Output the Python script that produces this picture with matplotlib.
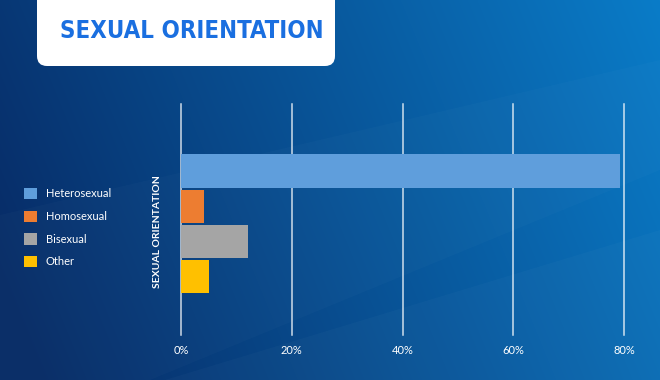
import numpy as np
import matplotlib
matplotlib.use("Agg")
import matplotlib.pyplot as plt
from matplotlib.patches import FancyBboxPatch, Polygon
from matplotlib.colors import to_rgb
from matplotlib import font_manager as fm

# ---- data ----
title = "SEXUAL ORIENTATION"
axis_label = "SEXUAL ORIENTATION"
categories = ["Heterosexual", "Homosexual", "Bisexual", "Other"]
values = [79.3, 4.2, 12.1, 5.1]
colors = ["#5f9edc", "#ed7d31", "#a5a5a5", "#ffc000"]
xticks = [0, 20, 40, 60, 80]
xtick_labels = ["0%", "20%", "40%", "60%", "80%"]

W, H = 660, 380
fig = plt.figure(figsize=(W / 100, H / 100), dpi=100)

# ---- background (pixel coordinates) ----
bg = fig.add_axes([0, 0, 1, 1])
bg.set_xlim(0, W)
bg.set_ylim(H, 0)
bg.axis("off")
xx, yy = np.meshgrid(np.linspace(0, 1, W), np.linspace(0, 1, H))
s = np.clip(0.85 * xx + 0.2 * (1 - yy) - 0.05, 0, 1)[..., None]
c0 = np.array(to_rgb("#072b66"))
c1 = np.array(to_rgb("#0a7cc8"))
img = c0 * (1 - s) + c1 * s
bg.imshow(img, extent=(0, W, H, 0), aspect="auto", zorder=0)
for pts, a in [
    ([(0, 215), (0, 380), (150, 380), (660, 170), (660, 60)], 0.018),
    ([(165, 380), (660, 380), (660, 230)], 0.025),
]:
    bg.add_patch(Polygon(pts, closed=True, facecolor="white", alpha=a,
                         edgecolor="none", zorder=1))

# title box
bg.add_patch(FancyBboxPatch((37, -20), 298, 86,
                            boxstyle="round,pad=0,rounding_size=10",
                            facecolor="white", edgecolor="none", zorder=2))

# pick a condensed bold font if available
title_fp = fm.FontProperties(family="DejaVu Sans", weight="bold")
for fam, stretch in [("Liberation Sans Narrow", "normal"),
                     ("DejaVu Sans", "condensed")]:
    fp = fm.FontProperties(family=fam, weight="bold", stretch=stretch)
    try:
        path = fm.findfont(fp, fallback_to_default=False)
        if "Narrow" in path or "Condensed" in path:
            title_fp = fp
            break
    except Exception:
        pass

t = bg.text(192, 31, title, ha="center", va="center", color="#1a6fe0",
            fontproperties=title_fp, zorder=3)
t.set_fontsize(30)
r = fig.canvas.get_renderer()
wpx = t.get_window_extent(renderer=r).width
t.set_fontsize(30 * 262 / wpx)

# ---- main chart ----
ax = fig.add_axes([181 / W, 1 - 335 / H, 443 / W, 231 / H])
ax.patch.set_alpha(0)
n = len(categories)
step = 0.152
ypos = [(i - (n - 1) / 2) * step for i in range(n)]
for yp, v, c, lab in zip(ypos, values, colors, categories):
    ax.barh(yp, v, height=0.145, color=c, label=lab, zorder=3)
ax.set_ylim(0.481, -0.519)
ax.set_xlim(0, 80)
ax.set_xticks(xticks)
ax.set_xticklabels(xtick_labels)
ax.set_yticks([])
for sp in ax.spines.values():
    sp.set_visible(False)
ax.grid(axis="x", color="white", alpha=0.8, linewidth=1.1, zorder=1)
for gl in ax.get_xgridlines():
    gl.set_clip_on(False)
ax.tick_params(axis="x", length=0, pad=7, labelcolor="white", labelsize=8)
for tl in ax.get_xticklabels():
    tl.set_family(["Lato", "DejaVu Sans"])

fig.text(157 / W, 1 - 232 / H, axis_label, rotation=90, ha="center",
         va="center", color="white", fontsize=7.5, fontweight="bold",
         family=["Lato", "DejaVu Sans"])

leg = fig.legend(loc="upper left", bbox_to_anchor=(24 / W, 1 - 188 / H),
                 frameon=False, handlelength=1.17,
                 handleheight=1.17, handletextpad=0.8, labelspacing=1.02,
                 borderpad=0, borderaxespad=0,
                 prop={"family": ["Lato", "DejaVu Sans"], "size": 8})
for tl in leg.get_texts():
    tl.set_color("white")

fig.savefig("out.png", dpi=100)
